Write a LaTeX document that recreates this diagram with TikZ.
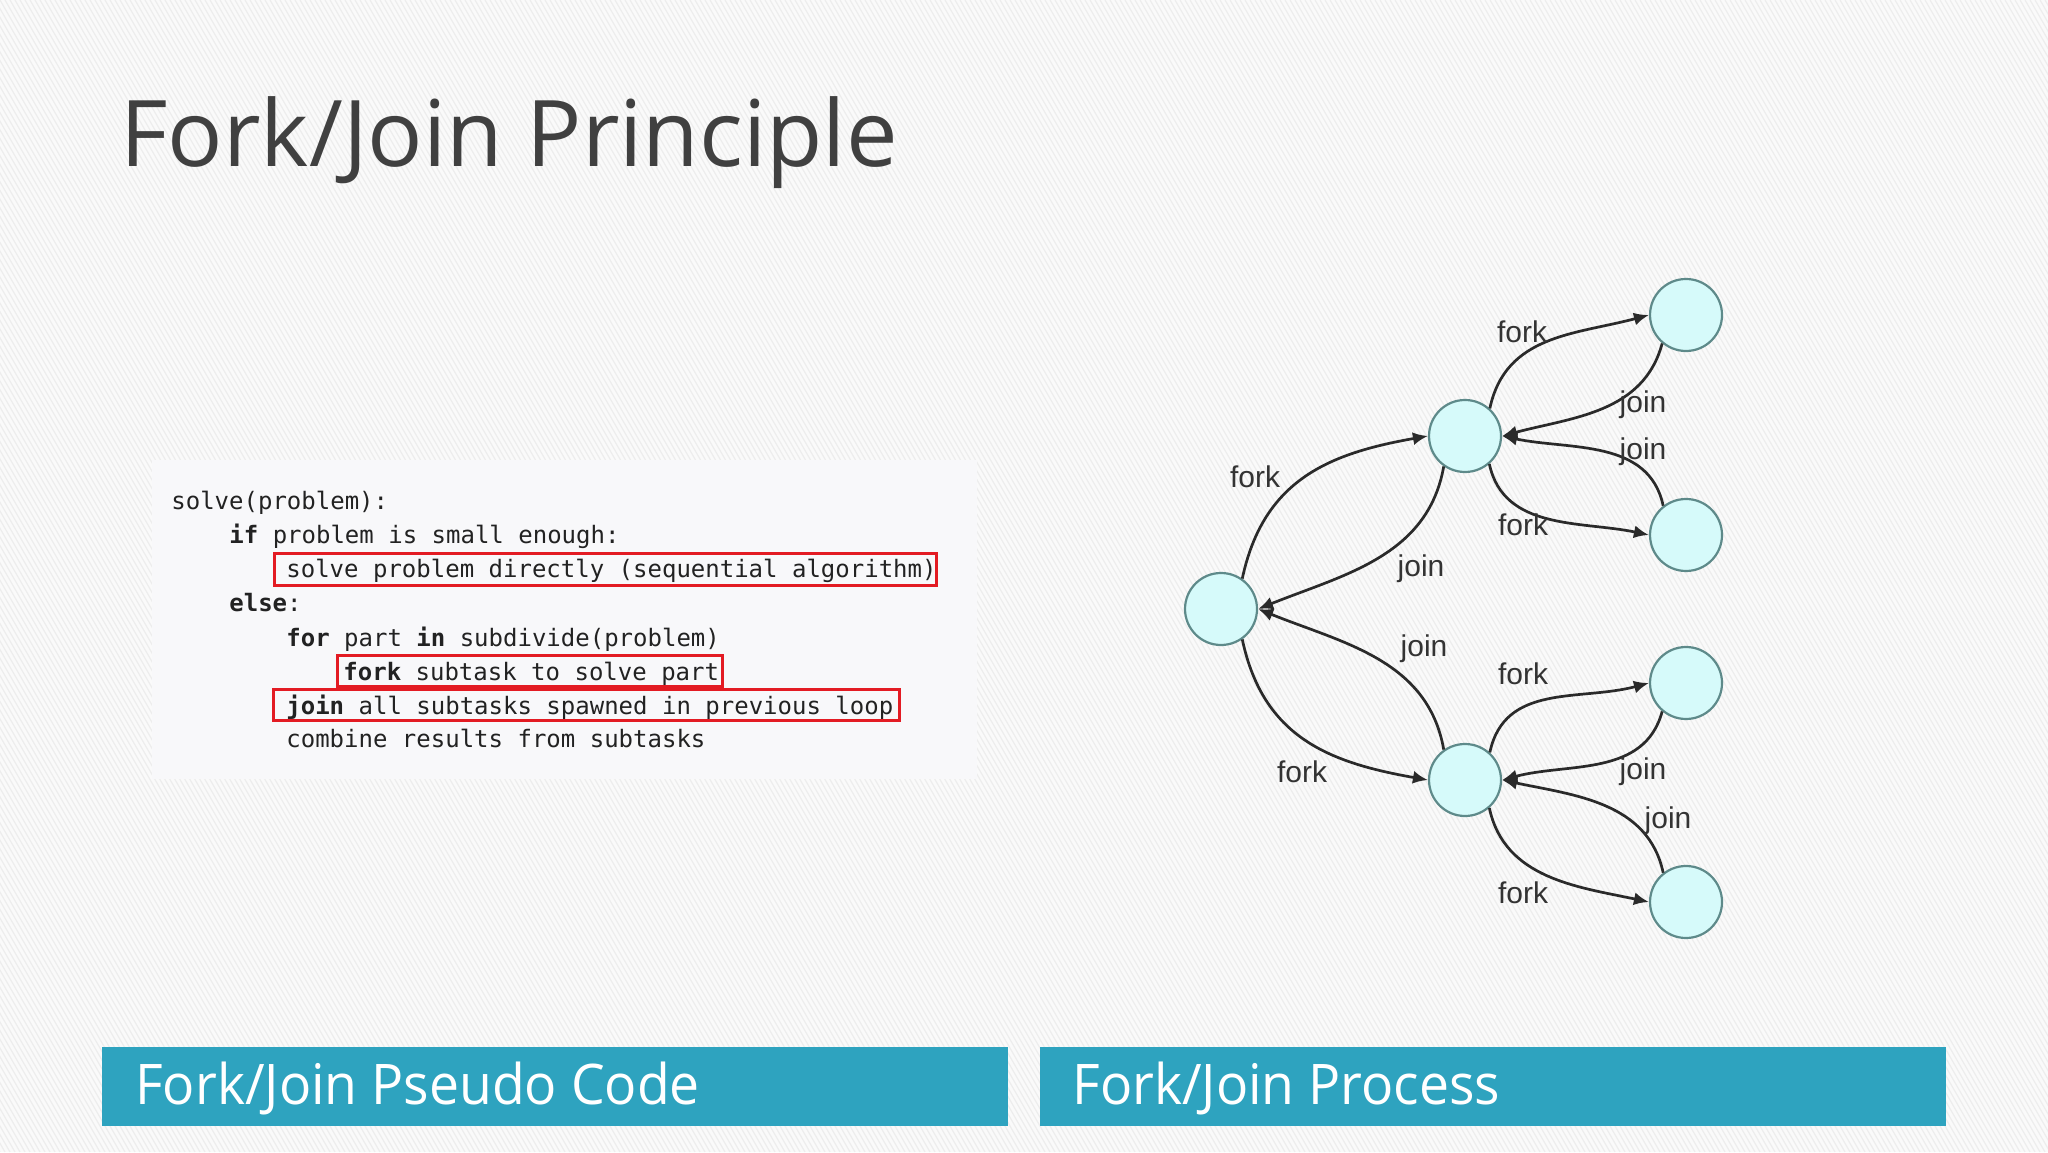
\documentclass[tikz,border=0pt]{standalone}
\usepackage{fontspec}
\setmainfont{Open Sans}
\newfontfamily\codefont{DejaVu Sans Mono}
\newfontfamily\labelfont{Liberation Sans}
\usetikzlibrary{arrows.meta}
\definecolor{bgc}{HTML}{FAFAFA}
\definecolor{stripec}{HTML}{EDEDED}
\definecolor{boxc}{HTML}{F8F8FA}
\definecolor{barc}{HTML}{2EA3BF}
\definecolor{titlec}{HTML}{404040}
\definecolor{codec}{HTML}{222222}
\definecolor{redc}{HTML}{E31B23}
\definecolor{vfill}{HTML}{D6FAFA}
\definecolor{vdraw}{HTML}{5E8A8A}
\definecolor{edgec}{HTML}{2A2A2A}
\definecolor{lblc}{HTML}{333333}
\tikzset{
  stripe/.style={stripec, line width=0.6pt},
  codeline/.style={anchor=base west, inner sep=0pt, text=codec, font=\codefont\fontsize{12pt}{14pt}\selectfont},
  redbox/.style={draw=redc, line width=1.5pt},
  vtx/.style={circle, draw=vdraw, fill=vfill, line width=1.1pt, minimum size=36pt, inner sep=0pt},
  edge/.style={draw=edgec, line width=1.35pt, -{Latex[length=7.5pt,width=6.5pt]}},
  lbl/.style={text=lblc, inner sep=0pt, font=\labelfont\fontsize{15pt}{17pt}\selectfont},
  bar/.style={fill=barc, draw=none},
  bartext/.style={anchor=base west, inner sep=0pt, text=white, font=\fontsize{28pt}{32pt}\selectfont},
}
\begin{document}
\begin{tikzpicture}[x=0.5pt,y=0.5pt]
\useasboundingbox (0,0) rectangle (2048,1152);
% background
\fill[bgc] (0,0) rectangle (2048,1152);
\begin{scope}
\clip (0,0) rectangle (2048,1152);
\foreach \i in {-665,-660,...,2048} \draw[stripe] (\i,1152) -- ++(665,-1152);
\end{scope}
% title
\node[anchor=base west, inner sep=0pt, text=titlec, font=\fontsize{46pt}{52pt}\selectfont] (title) at (120,985) {Fork/Join Principle};
% code box
\fill[boxc] (152,692) rectangle (977,373);
\node[codeline] (c1) at (171,642) {solve(problem):};
\node[codeline] (c2) at (229,608) {\textbf{if} problem is small enough:};
\node[codeline] (c3) at (286,574) {solve problem directly (sequential algorithm)};
\node[codeline] (c4) at (229,540) {\textbf{else}:};
\node[codeline] (c5) at (286,506) {\textbf{for} part \textbf{in} subdivide(problem)};
\node[codeline] (c6) at (343,472) {\textbf{fork} subtask to solve part};
\node[codeline] (c7) at (286,438) {\textbf{join} all subtasks spawned in previous loop};
\node[codeline] (c8) at (286,405) {combine results from subtasks};
\draw[redbox] (274,598) rectangle (936,566);
\draw[redbox] (337,497) rectangle (722,466);
\draw[redbox] (273,463) rectangle (899,432);
% graph
\node[vtx] (R) at (1221,543) {};
\node[vtx] (A) at (1465,716) {};
\node[vtx] (B) at (1465,372) {};
\node[vtx] (A1) at (1686,837) {};
\node[vtx] (A2) at (1686,617) {};
\node[vtx] (B1) at (1686,469) {};
\node[vtx] (B2) at (1686,250) {};
\draw[edge] (R.55) to[out=78,in=190,looseness=1.1] (A.west);
\draw[edge] (A.-125) to[out=-100,in=22] (R.east);
\draw[edge] (R.-55) to[out=-78,in=170,looseness=1.1] (B.west);
\draw[edge] (B.125) to[out=100,in=-22] (R.east);
\draw[edge] (A.48) to[out=78,in=195,looseness=1.05] (A1.west);
\draw[edge] (A1.-130) to[out=-105,in=15] (A.east);
\draw[edge] (A2.128) to[out=102,in=-12] (A.east);
\draw[edge] (A.-49) to[out=-78,in=168] (A2.west);
\draw[edge] (B.48) to[out=78,in=195,looseness=1.05] (B1.west);
\draw[edge] (B1.-130) to[out=-105,in=15] (B.east);
\draw[edge] (B2.128) to[out=102,in=-12] (B.east);
\draw[edge] (B.-49) to[out=-78,in=168] (B2.west);
\node[lbl] (l1) at (1255,675) {fork};
\node[lbl] (l2) at (1421,583) {join};
\node[lbl] (l3) at (1302,380) {fork};
\node[lbl] (l4) at (1424,503) {join};
\node[lbl] (l5) at (1522,820) {fork};
\node[lbl] (l6) at (1643,747) {join};
\node[lbl] (l7) at (1643,700) {join};
\node[lbl] (l8) at (1523,627) {fork};
\node[lbl] (l9) at (1523,478) {fork};
\node[lbl] (l10) at (1643,380) {join};
\node[lbl] (l11) at (1668,331) {join};
\node[lbl] (l12) at (1523,259) {fork};
% bottom bars
\fill[bar] (102,105) rectangle (1008,26);
\fill[bar] (1040,105) rectangle (1946,26);
\node[bartext] (b1) at (135,48) {\scalebox{0.955}[1]{Fork/Join Pseudo Code}};
\node[bartext] (b2) at (1072,48) {\scalebox{0.955}[1]{Fork/Join Process}};
\end{tikzpicture}
\end{document}
